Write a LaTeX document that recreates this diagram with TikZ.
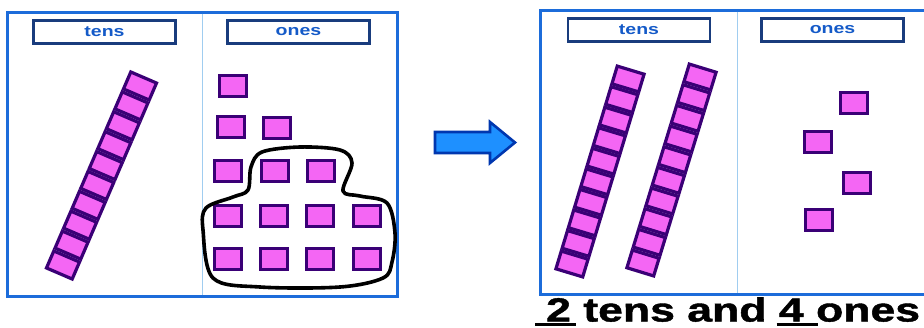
\documentclass[tikz,border=0pt]{standalone}
\usepackage{fontspec}
\setmainfont{Liberation Sans}
\newfontfamily\answerfont[BoldFeatures={FakeBold=1.2}]{Liberation Sans}
\usepackage{graphicx}
\usepackage{tikz}
\usetikzlibrary{calc}
\definecolor{pvPink}{RGB}{244,102,244}
\definecolor{pvPurple}{RGB}{58,0,118}
\definecolor{pvFrame}{RGB}{28,108,218}
\definecolor{pvRule}{RGB}{160,205,240}
\definecolor{pvNavy}{RGB}{25,60,125}
\definecolor{pvText}{RGB}{20,90,200}
\definecolor{pvArrow}{RGB}{30,144,255}
\definecolor{pvArrowLine}{RGB}{0,55,175}
\tikzset{
  unitcube/.style={draw=pvPurple,fill=pvPink,line width=3.2pt,
    minimum width=27pt,minimum height=21pt,inner sep=0pt},
  rodcube/.style={unitcube,minimum width=28pt,minimum height=18.5pt},
  headbox/.style={draw=pvNavy,fill=white,line width=2.8pt,
    minimum width=142pt,minimum height=23pt,inner sep=0pt,
    font=\fontsize{15}{15}\selectfont\bfseries\color{pvText}},
  panelframe/.style={draw=pvFrame,line width=3pt},
  panelrule/.style={draw=pvRule,line width=1pt},
  groupline/.style={draw=black,line width=3.6pt,line join=round},
  bigarrow/.style={draw=pvArrowLine,fill=pvArrow,line width=2.6pt,line join=miter}
}
\newcommand{\tenrod}[4]{%
  \foreach \k in {0,...,9}{
    \node[rodcube,rotate=#4] (#1-\k) at ($(#2)!\k/9!(#3)$) {};
  }
}
\newcommand{\headtext}[1]{\scalebox{1.3}[1]{#1}}
\newcommand{\filledblank}[2]{\rlap{\kern#1\vrule height -.03em depth .135em width .92em}#2}

\begin{document}
\begin{tikzpicture}[x=1pt,y=-1pt]
  \useasboundingbox[fill=white] (0,0) rectangle (924,327);

  \draw[panelframe] (7,12) rectangle (397,296);
  \draw[panelrule] (202,13.5) -- (202,294.5);
  \node[headbox] (tensL) at (104.5,32) {\headtext{tens}};
  \node[headbox] (onesL) at (298.5,32) {\headtext{ones}};

  \coordinate (rodAbot) at (63,265);
  \coordinate (rodAtop) at (140,86);
  \tenrod{rodA}{rodAbot}{rodAtop}{-23.3}

  \foreach \px/\py [count=\n] in {233/86,231/127,277/128,228/171,275/171,321/171,
      228/216,274/216,320/216,367/216,228/259,274/259,320/259,367/259}
    \node[unitcube] (oneL-\n) at (\px,\py) {};

  \draw[groupline] plot[smooth cycle,tension=0.55] coordinates {
    (203,230) (206,208) (233,197) (248,190) (251,167) (262,152) (300,147)
    (340,150) (352,163) (343,191) (360,196) (387,203) (395,233) (392,262)
    (383,278) (340,287) (260,287) (213,278)};

  \draw[bigarrow] (435,132) -- (490,132) -- (490,122) -- (515,142.5)
    -- (490,163) -- (490,153) -- (435,153) -- cycle;

  \draw[panelframe] (930,10) -- (540,10) -- (540,294) -- (930,294);
  \draw[panelrule] (737,11.5) -- (737,292.5);
  \node[headbox] (tensR) at (639,30) {\headtext{tens}};
  \node[headbox] (onesR) at (832.5,30) {\headtext{ones}};

  \coordinate (rodBbot) at (572,264);
  \coordinate (rodBtop) at (628,79);
  \tenrod{rodB}{rodBbot}{rodBtop}{-16.8}
  \coordinate (rodCbot) at (643,263);
  \coordinate (rodCtop) at (700,77);
  \tenrod{rodC}{rodCbot}{rodCtop}{-17}

  \foreach \px/\py [count=\n] in {854/103,818/142,857/183,819/220}
    \node[unitcube] (oneR-\n) at (\px,\py) {};

  \node[anchor=base west,inner sep=0pt,font=\fontsize{33.5}{33.5}\answerfont\bfseries]
    (answer) at (546,321.5)
    {\scalebox{1.33}[1]{\filledblank{-.25em}{2} tens and \filledblank{-.05em}{4} ones}};
\end{tikzpicture}
\end{document}
